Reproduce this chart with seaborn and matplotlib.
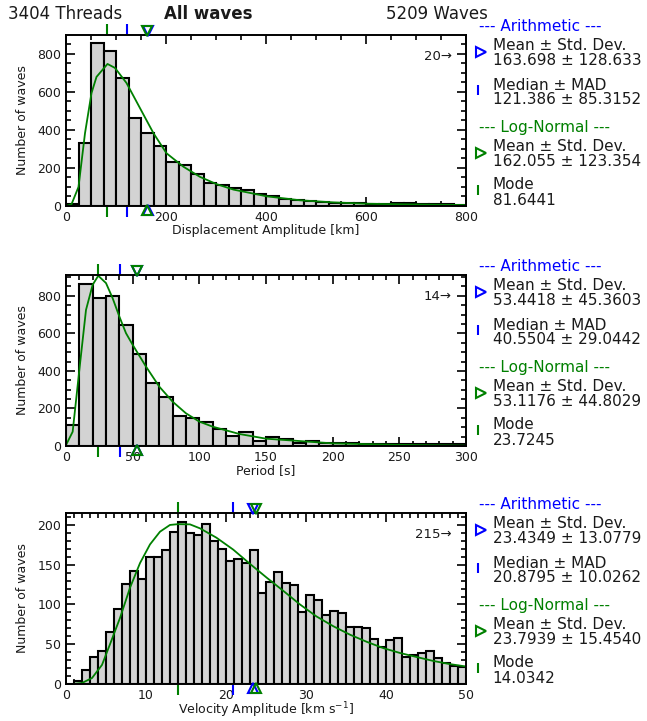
import matplotlib
matplotlib.use("Agg")
import matplotlib.pyplot as plt
import seaborn as sns
import numpy as np
import pandas as pd
from matplotlib.ticker import MultipleLocator

# ---------------- data ----------------
disp_edges_step = 25
disp_counts = [13, 333, 857, 813, 672, 461, 385, 317, 232, 213, 166, 121, 109, 97,
               82, 63, 53, 37, 30, 25, 21, 18, 17, 16, 13, 12, 14, 16, 8, 8, 8, 6]
disp_curve_x = [0, 11, 25, 38, 51, 61, 83, 98, 121, 148, 175, 201, 235, 268, 301,
                335, 375, 401, 468, 535, 601, 668, 800]
disp_curve_y = [0, 9, 100, 382, 593, 678, 746, 725, 646, 514, 382, 277, 206, 153, 115,
                86, 65, 51, 30, 19, 12, 9, 5]
disp_arith = ["163.698", "128.633", "121.386", "85.3152"]
disp_lognorm = ["162.055", "123.354", "81.6441"]

period_edges_step = 10
period_counts = [112, 862, 790, 798, 645, 492, 336, 261, 158, 150, 127, 92, 55, 75, 25,
                 47, 37, 18, 25, 15, 14, 14, 13, 13, 10, 11, 10, 8, 9, 9]
period_curve_x = [0, 5, 10, 15, 20, 24.2, 30, 35, 40, 45, 50, 60, 70, 80, 90, 100, 110,
                  130, 150, 200, 250, 300]
period_curve_y = [5, 76, 405, 725, 859, 907, 868, 787, 690, 601, 539, 423, 316, 236,
                  174, 130, 103, 64, 39, 14, 6, 2]
period_arith = ["53.4418", "45.3603", "40.5504", "29.0442"]
period_lognorm = ["53.1176", "44.8029", "23.7245"]

vel_edges_step = 1
vel_counts = [0, 4, 17, 34, 41, 65, 94, 126, 142, 132, 160, 160, 169, 191, 204, 190,
              187, 201, 180, 170, 155, 157, 152, 169, 115, 128, 141, 127, 124, 90, 112,
              106, 87, 92, 89, 72, 72, 71, 56, 47, 55, 58, 34, 37, 39, 41, 33, 27, 23, 21]
vel_curve_x = [1, 2, 3.25, 4.5, 5.5, 6.75, 8, 9.25, 10.5, 11.75, 13, 14.03, 15.5, 16.75,
               18.8, 20.9, 23, 25.1, 27.2, 29.25, 31.3, 33.4, 35.5, 37.6, 39.7, 41.75,
               43.8, 45.9, 48, 50]
vel_curve_y = [0.2, 1.3, 7.5, 24, 50, 83, 121, 152, 175.5, 191.5, 200, 201, 200.7, 195.7,
               184, 169, 151, 133.6, 116.8, 100, 85, 72.7, 62, 53, 45, 39, 34, 29, 25, 22]
vel_arith = ["23.4349", "13.0779", "20.8795", "10.0262"]
vel_lognorm = ["23.7939", "15.4540", "14.0342"]

overflow = ["20", "14", "215"]
xlabels = ["Displacement Amplitude [km]", "Period [s]",
           "Velocity Amplitude [km s$^{-1}$]"]
xmaxes = [800, 300, 50]
ymaxes = [898, 911, 215]
xmajor = [200, 50, 10]
xminor = [50, 10, 1]
ymajor = [200, 200, 50]
yminor = [50, 50, 10]
title_left = "3404 Threads"
title_mid = "All waves"
title_right = "5209 Waves"

# ---------------- style ----------------
sns.set_style("ticks")
plt.rcParams.update({
    "font.family": ["DejaVu Sans"],
    "text.color": "#1a1a1a",
    "axes.labelcolor": "#1a1a1a",
    "xtick.color": "black",
    "ytick.color": "black",
    "xtick.labelcolor": "#1a1a1a",
    "ytick.labelcolor": "#1a1a1a",
    "axes.edgecolor": "black",
})

W, H = 647, 721
fig = plt.figure(figsize=(W / 100, H / 100), dpi=100)

ax_tops = [35, 275, 513]
ax_left, ax_w, ax_h = 66, 400, 171
label_pads = [0, 0, -0.8]

panels = [
    (disp_counts, disp_edges_step, disp_curve_x, disp_curve_y, disp_arith, disp_lognorm),
    (period_counts, period_edges_step, period_curve_x, period_curve_y, period_arith, period_lognorm),
    (vel_counts, vel_edges_step, vel_curve_x, vel_curve_y, vel_arith, vel_lognorm),
]

BLUE = "#0000ff"
GREEN = "#008000"

for i, (counts, step, cx, cy, arith, logn) in enumerate(panels):
    top = ax_tops[i]
    ax = fig.add_axes([ax_left / W, 1 - (top + ax_h) / H, ax_w / W, ax_h / H])
    edges = [k * step for k in range(len(counts) + 1)]
    df = pd.DataFrame({"center": [e + step / 2 for e in edges[:-1]],
                       "count": [float(c) for c in counts]})
    sns.histplot(data=df, x="center", weights="count", bins=edges, ax=ax,
                 color="lightgray", edgecolor="black", linewidth=1.5, alpha=1.0)
    cdf = pd.DataFrame({"x": cx, "y": cy})
    sns.lineplot(data=cdf, x="x", y="y", ax=ax, color=GREEN, linewidth=1.3,
                 sort=False, estimator=None)
    ax.set_xlim(0, xmaxes[i])
    ax.set_ylim(0, ymaxes[i])
    ax.xaxis.set_major_locator(MultipleLocator(xmajor[i]))
    ax.xaxis.set_minor_locator(MultipleLocator(xminor[i]))
    ax.yaxis.set_major_locator(MultipleLocator(ymajor[i]))
    ax.yaxis.set_minor_locator(MultipleLocator(yminor[i]))
    ax.tick_params(which="both", direction="in", top=True, right=True, width=1.2)
    ax.tick_params(which="major", length=6.5, labelsize=9, pad=3.5)
    ax.tick_params(which="minor", length=3.5)
    for s in ax.spines.values():
        s.set_linewidth(1.4)
        s.set_visible(True)
    ax.set_xlabel(xlabels[i], fontsize=9, labelpad=label_pads[i])
    ax.set_ylabel("Number of waves", fontsize=9, labelpad=6)

    a_mean, a_std, a_med, a_mad = [float(v) for v in arith]
    l_mean, l_std, l_mode = [float(v) for v in logn]
    trx = ax.get_xaxis_transform()
    ax.plot([a_mean], [1.025], marker="v", ms=6.5, mfc="none", mec=BLUE, mew=1.5,
            transform=trx, clip_on=False, zorder=5)
    ax.plot([l_mean], [1.025], marker="v", ms=6.5, mfc="none", mec=GREEN, mew=1.5,
            transform=trx, clip_on=False, zorder=6)
    ax.plot([a_mean], [-0.025], marker="^", ms=6.5, mfc="none", mec=BLUE, mew=1.5,
            transform=trx, clip_on=False, zorder=5)
    ax.plot([l_mean], [-0.025], marker="^", ms=6.5, mfc="none", mec=GREEN, mew=1.5,
            transform=trx, clip_on=False, zorder=6)
    for yy in (1.037, -0.037):
        ax.plot([a_med], [yy], marker="|", ms=7, mew=1.5, color=BLUE,
                transform=trx, clip_on=False, zorder=5)
        ax.plot([l_mode], [yy], marker="|", ms=7, mew=1.5, color=GREEN,
                transform=trx, clip_on=False, zorder=5)

    ax.text(0.965, 0.877, overflow[i] + "\u2192", transform=ax.transAxes,
            ha="right", va="center", fontsize=9.5)

    tx, hx, mx, vx = 1.067, 1.0325, 1.0375, 1.031
    fs = 11
    kw = dict(transform=ax.transAxes, clip_on=False, va="center", ha="left", fontsize=fs)
    ax.text(hx, 1.0526, "--- Arithmetic ---", color=BLUE, **kw)
    ax.plot([mx], [0.902], marker=">", ms=6.5, mfc="none", mec=BLUE, mew=1.5,
            transform=ax.transAxes, clip_on=False)
    ax.text(tx, 0.9415, "Mean \u00b1 Std. Dev.", **kw)
    ax.text(tx, 0.851, f"{arith[0]} \u00b1 {arith[1]}", **kw)
    ax.plot([vx], [0.678], marker="|", ms=7, mew=1.5, color=BLUE,
            transform=ax.transAxes, clip_on=False)
    ax.text(tx, 0.7076, "Median \u00b1 MAD", **kw)
    ax.text(tx, 0.624, f"{arith[2]} \u00b1 {arith[3]}", **kw)
    ax.text(hx, 0.460, "--- Log-Normal ---", color=GREEN, **kw)
    ax.plot([mx], [0.312], marker=">", ms=6.5, mfc="none", mec=GREEN, mew=1.5,
            transform=ax.transAxes, clip_on=False)
    ax.text(tx, 0.347, "Mean \u00b1 Std. Dev.", **kw)
    ax.text(tx, 0.259, f"{logn[0]} \u00b1 {logn[1]}", **kw)
    ax.plot([vx], [0.0936], marker="|", ms=7, mew=1.5, color=GREEN,
            transform=ax.transAxes, clip_on=False)
    ax.text(tx, 0.127, "Mode", **kw)
    ax.text(tx, 0.035, logn[2], **kw)

fig.text(8 / W, 1 - 14 / H, title_left, ha="left", va="center", fontsize=12)
fig.text(208 / W, 1 - 14 / H, title_mid, ha="center", va="center", fontsize=12,
         fontweight="bold")
fig.text(488 / W, 1 - 14 / H, title_right, ha="right", va="center", fontsize=12)

fig.savefig("out.png", dpi=100)
